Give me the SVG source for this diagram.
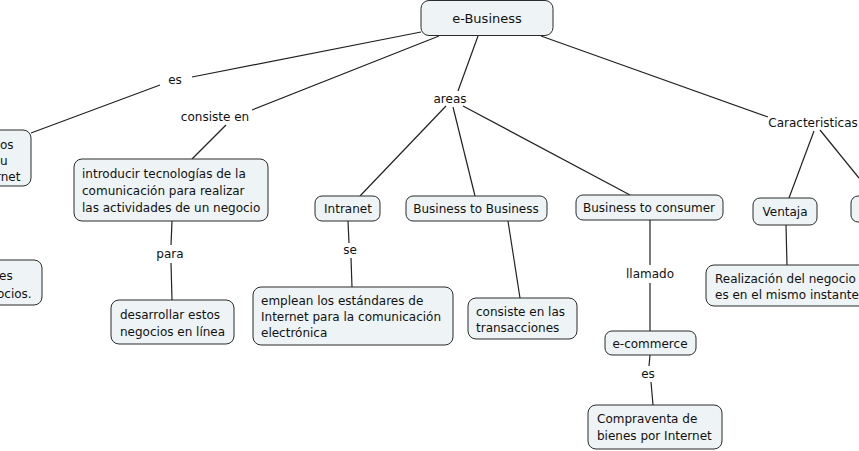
<svg xmlns="http://www.w3.org/2000/svg" width="859" height="451" viewBox="0 0 859 451">
<style>
.n rect{fill:#eef4f6;stroke:#2b2b2b;stroke-width:1}
text{font-family:"DejaVu Sans",Verdana,sans-serif;font-size:12px;fill:#111}
.c{text-anchor:middle}
#links line{stroke:#222;stroke-width:1.2}
</style>
<rect width="859" height="451" fill="#fff"/>
<g id="links">
<line x1="421" y1="32" x2="192" y2="77"/>
<line x1="160" y1="85" x2="31" y2="133"/>
<line x1="439" y1="36" x2="252" y2="110"/>
<line x1="226" y1="125" x2="192" y2="159"/>
<line x1="478" y1="36" x2="458" y2="91"/>
<line x1="446" y1="106" x2="360" y2="196"/>
<line x1="453" y1="107" x2="475" y2="196"/>
<line x1="463" y1="106" x2="630" y2="195"/>
<line x1="541" y1="36" x2="768" y2="117"/>
<line x1="814" y1="131" x2="789" y2="198"/>
<line x1="820" y1="130" x2="859" y2="178"/>
<line x1="172" y1="221" x2="171" y2="245"/>
<line x1="171" y1="263" x2="172" y2="300"/>
<line x1="348" y1="221" x2="349" y2="243"/>
<line x1="351" y1="258" x2="352" y2="287"/>
<line x1="508" y1="221" x2="520" y2="298"/>
<line x1="650" y1="220" x2="650" y2="265"/>
<line x1="650" y1="283" x2="650" y2="331"/>
<line x1="650" y1="355" x2="649" y2="366"/>
<line x1="651" y1="382" x2="653" y2="405"/>
<line x1="786" y1="225" x2="787" y2="265"/>
</g>
<g id="labels">
<text class="c" x="175" y="84">es</text>
<text class="c" x="215" y="121">consiste en</text>
<text class="c" x="450" y="103">areas</text>
<text class="c" x="813" y="127">Caracteristicas</text>
<text class="c" x="170" y="258">para</text>
<text class="c" x="350" y="254">se</text>
<text class="c" x="650" y="278">llamado</text>
<text class="c" x="648" y="378">es</text>
</g>
<g id="n-ebusiness" class="n"><rect x="421" y="0.5" width="132" height="35" rx="8"/><text class="c" x="487" y="23" style="font-size:13px">e-Business</text></g>
<g id="n-left1" class="n"><rect x="-20" y="130" width="51" height="56" rx="8"/><text x="0" y="149">os</text><text x="0" y="165">u</text><text x="-4" y="181">rnet</text></g>
<g id="n-left2" class="n"><rect x="-20" y="260" width="62" height="45" rx="8"/><text x="-1" y="280">es</text><text x="-3" y="298">ocios.</text></g>
<g id="n-introducir" class="n"><rect x="74" y="159" width="194" height="62" rx="8"/><text x="82" y="178">introducir tecnologías de la</text><text x="82" y="195">comunicación para realizar</text><text x="82" y="212">las actividades de un negocio</text></g>
<g id="n-desarrollar" class="n"><rect x="111" y="300" width="123" height="44" rx="8"/><text x="120" y="319">desarrollar estos</text><text x="120" y="336">negocios en línea</text></g>
<g id="n-intranet" class="n"><rect x="315" y="196" width="65" height="25" rx="7"/><text class="c" x="348" y="213">Intranet</text></g>
<g id="n-b2b" class="n"><rect x="406" y="196" width="141" height="25" rx="7"/><text class="c" x="476" y="213">Business to Business</text></g>
<g id="n-b2c" class="n"><rect x="576" y="195" width="147" height="25" rx="7"/><text class="c" x="649" y="212">Business to consumer</text></g>
<g id="n-ventaja" class="n"><rect x="753" y="198" width="64" height="27" rx="7"/><text class="c" x="785" y="216">Ventaja</text></g>
<g id="n-right" class="n"><rect x="851" y="196" width="40" height="26" rx="7"/></g>
<g id="n-realizacion" class="n"><rect x="706" y="265" width="180" height="41" rx="8"/><text x="715" y="283">Realización del negocio</text><text x="715" y="299">es en el mismo instante</text></g>
<g id="n-emplean" class="n"><rect x="253" y="287" width="200" height="58" rx="8"/><text x="261" y="305">emplean los estándares de</text><text x="261" y="321">Internet para la comunicación</text><text x="261" y="337">electrónica</text></g>
<g id="n-consiste" class="n"><rect x="468" y="298" width="109" height="41" rx="8"/><text x="476" y="316">consiste en las</text><text x="476" y="332">transacciones</text></g>
<g id="n-ecommerce" class="n"><rect x="605" y="331" width="91" height="24" rx="7"/><text class="c" x="650" y="348">e-commerce</text></g>
<g id="n-compraventa" class="n"><rect x="588" y="405" width="134" height="44" rx="8"/><text x="597" y="423">Compraventa de</text><text x="597" y="440">bienes por Internet</text></g>
</svg>
